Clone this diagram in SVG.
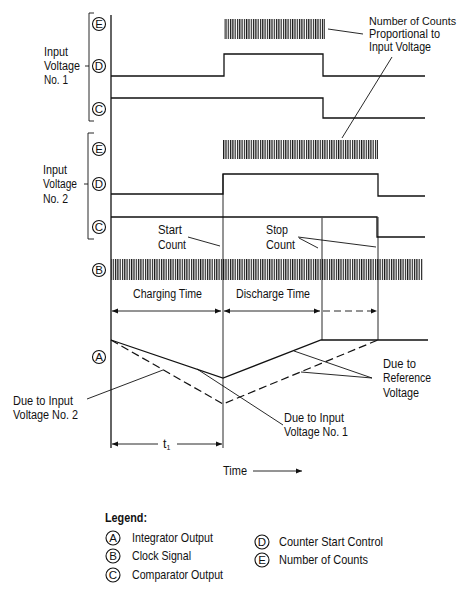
<svg xmlns="http://www.w3.org/2000/svg" width="467" height="601" viewBox="0 0 467 601">
<style>
text{font-family:"Liberation Sans",Arial,sans-serif;font-size:12.5px;fill:#111}
.lg{font-size:13px}
.sm{font-size:11px}
.c{font-size:11.5px;text-anchor:middle}
.cl{fill:none;stroke:#111;stroke-width:1.1}
.sig{fill:none;stroke:#111;stroke-width:1.3}
.thin{fill:none;stroke:#111;stroke-width:0.9}
.dash{fill:none;stroke:#111;stroke-width:1.2;stroke-dasharray:8 4}
.hatch{fill:url(#vh)}
</style>
<defs>
<pattern id="vh" patternUnits="userSpaceOnUse" width="2.3" height="10">
<rect x="0" y="0" width="1.2" height="10" fill="#1a1a1a"/>
</pattern>
<marker id="ah" viewBox="0 0 10 10" refX="10" refY="5" markerWidth="8" markerHeight="6" orient="auto-start-reverse" markerUnits="userSpaceOnUse">
<path d="M0,1 L10,5 L0,9 Z" fill="#111"/>
</marker>
</defs>

<rect width="467" height="601" fill="#fff"/>

<g id="labels-left">
<text x="44" y="56" textLength="24" lengthAdjust="spacingAndGlyphs">Input</text>
<text x="44" y="70" textLength="36" lengthAdjust="spacingAndGlyphs">Voltage</text>
<text x="44" y="84" textLength="24" lengthAdjust="spacingAndGlyphs">No. 1</text>
<text x="43" y="174" textLength="24" lengthAdjust="spacingAndGlyphs">Input</text>
<text x="43" y="188" textLength="34" lengthAdjust="spacingAndGlyphs">Voltage</text>
<text x="43" y="203" textLength="25" lengthAdjust="spacingAndGlyphs">No. 2</text>
<path class="thin" d="M94,13 H89 V121 H94 M85,66 H89 M94,133 H88 V239 H94 M84,184 H88"/>
</g>

<g id="axis">
<path class="sig" d="M111,15 V448"/>
</g>

<g id="circles">
<circle class="cl" cx="99" cy="24" r="6.5"/><text class="c" x="99" y="28.1">E</text>
<circle class="cl" cx="99" cy="66" r="6.5"/><text class="c" x="99" y="70.1">D</text>
<circle class="cl" cx="99" cy="109" r="6.5"/><text class="c" x="99" y="113.1">C</text>
<circle class="cl" cx="99" cy="149" r="6.5"/><text class="c" x="99" y="153.1">E</text>
<circle class="cl" cx="99" cy="184" r="6.5"/><text class="c" x="99" y="188.1">D</text>
<circle class="cl" cx="99" cy="227" r="6.5"/><text class="c" x="99" y="231.1">C</text>
<circle class="cl" cx="99" cy="270" r="6.5"/><text class="c" x="99" y="274.1">B</text>
<circle class="cl" cx="99" cy="357" r="6.5"/><text class="c" x="99" y="361.1">A</text>
</g>

<g id="signals">
<rect class="hatch" x="224" y="19" width="101" height="20"/>
<path class="sig" d="M111,76 H224 V54 H323 V76 H425"/>
<path class="sig" d="M111,98 H323 V118 H425"/>
<rect class="hatch" x="223" y="140" width="155" height="19"/>
<path class="sig" d="M111,194 H223 V174 H378 V196 H425"/>
<path class="sig" d="M111,217 H377 V237 H425"/>
<rect class="hatch" x="111" y="259" width="312" height="21"/>
<path class="sig" d="M111,340 L223,378 L321,340 H428"/>
<path class="dash" d="M111,340 L223,404 L378,340"/>
</g>

<g id="guides">
<path class="thin" d="M223,174 V448 M322,218 V340 M378,217 V340"/>
</g>

<g id="connectors">
<path class="thin" d="M112,311 H221" marker-start="url(#ah)" marker-end="url(#ah)"/>
<path class="thin" d="M224,311 H320" marker-start="url(#ah)" marker-end="url(#ah)"/>
<path class="thin" d="M323,311 H377" stroke-dasharray="7 4" marker-end="url(#ah)"/>
<path class="thin" d="M112,444 H158" marker-start="url(#ah)"/>
<path class="thin" d="M177,444 H222" marker-end="url(#ah)"/>
<path class="thin" d="M253,471 H302" marker-end="url(#ah)"/>
<path class="thin" d="M328,29 L363,34"/>
<path class="thin" d="M392,57 L342,138"/>
<path class="thin" d="M188,237 L220,246"/>
<path class="thin" d="M298,237 L376,247 M299,238 L318,248"/>
<path class="thin" d="M87,399 L163,370"/>
<path class="thin" d="M197,369 L283,425"/>
<path class="thin" d="M372,378 L294,351 M372,378 L301,372"/>
</g>

<g id="annotations">
<text class="sm" x="369" y="25" textLength="87" lengthAdjust="spacingAndGlyphs">Number of Counts</text>
<text x="369" y="38" textLength="71" lengthAdjust="spacingAndGlyphs">Proportional to</text>
<text x="369" y="51" textLength="62" lengthAdjust="spacingAndGlyphs">Input Voltage</text>
<text x="158" y="234" textLength="24" lengthAdjust="spacingAndGlyphs">Start</text>
<text x="158" y="249" textLength="28" lengthAdjust="spacingAndGlyphs">Count</text>
<text x="266" y="234" textLength="22" lengthAdjust="spacingAndGlyphs">Stop</text>
<text x="266" y="249" textLength="29" lengthAdjust="spacingAndGlyphs">Count</text>
<text x="133" y="298" textLength="69" lengthAdjust="spacingAndGlyphs">Charging Time</text>
<text x="236" y="298" textLength="74" lengthAdjust="spacingAndGlyphs">Discharge Time</text>
<text x="13" y="405" textLength="60" lengthAdjust="spacingAndGlyphs">Due to Input</text>
<text x="13" y="419" textLength="65" lengthAdjust="spacingAndGlyphs">Voltage No. 2</text>
<text x="284" y="422" textLength="60" lengthAdjust="spacingAndGlyphs">Due to Input</text>
<text x="284" y="436" textLength="64" lengthAdjust="spacingAndGlyphs">Voltage No. 1</text>
<text x="383" y="368" textLength="33" lengthAdjust="spacingAndGlyphs">Due to</text>
<text x="383" y="382" textLength="48" lengthAdjust="spacingAndGlyphs">Reference</text>
<text x="383" y="397" textLength="36" lengthAdjust="spacingAndGlyphs">Voltage</text>
<text x="163" y="448">t<tspan font-size="7" dy="2">1</tspan></text>
<text x="223" y="475" textLength="24" lengthAdjust="spacingAndGlyphs">Time</text>
</g>

<g id="legend">
<text x="105" y="522" font-weight="bold" textLength="42" lengthAdjust="spacingAndGlyphs">Legend:</text>
<circle class="cl" cx="113" cy="538" r="7"/><text class="c" x="113" y="542.2">A</text>
<text class="lg" x="132" y="542" textLength="81" lengthAdjust="spacingAndGlyphs">Integrator Output</text>
<circle class="cl" cx="113" cy="556" r="7"/><text class="c" x="113" y="560.2">B</text>
<text class="lg" x="132" y="560" textLength="59" lengthAdjust="spacingAndGlyphs">Clock Signal</text>
<circle class="cl" cx="113" cy="575" r="7"/><text class="c" x="113" y="579.2">C</text>
<text class="lg" x="132" y="579" textLength="91" lengthAdjust="spacingAndGlyphs">Comparator Output</text>
<circle class="cl" cx="262" cy="542" r="7"/><text class="c" x="262" y="546.2">D</text>
<text class="lg" x="279" y="546" textLength="104" lengthAdjust="spacingAndGlyphs">Counter Start Control</text>
<circle class="cl" cx="262" cy="560" r="7"/><text class="c" x="262" y="564.2">E</text>
<text class="lg" x="279" y="564" textLength="89" lengthAdjust="spacingAndGlyphs">Number of Counts</text>
</g>
</svg>
